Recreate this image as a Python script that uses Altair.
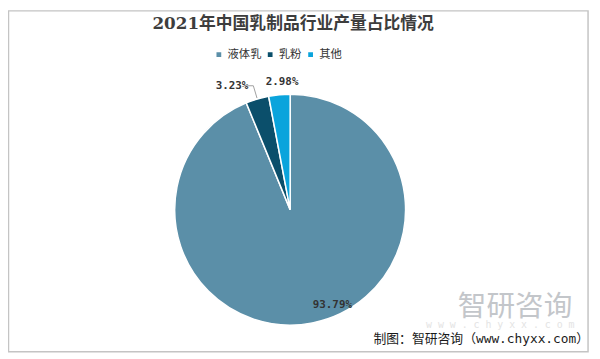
import altair as alt
import pandas as pd

categories = ["液体乳", "乳粉", "其他"]
values = [93.79, 3.23, 2.98]
labels = ["93.79%", "3.23%", "2.98%"]
colors = ["#5b8fa8", "#0b4f6b", "#0aa4dc"]

df = pd.DataFrame({"category": categories, "value": values, "label": labels,
                   "idx": list(range(len(categories)))})

CX, CY, R = 286, 202, 117
W, H = 592, 351

base = alt.Chart(df)

border = alt.Chart(alt.Data(values=[{}])).mark_rect(
    fill=None, stroke="#c4c4c4", strokeWidth=1.5
).encode(x=alt.value(0.5), x2=alt.value(588), y=alt.value(0.5), y2=alt.value(346))

pie = base.mark_arc(outerRadius=R, stroke="white", strokeWidth=1.5).encode(
    theta=alt.Theta("value:Q", stack=True),
    color=alt.Color(
        "category:N",
        scale=alt.Scale(domain=categories, range=colors),
        sort=categories,
        legend=alt.Legend(
            title=None, orient="none", legendX=208, legendY=39,
            direction="horizontal", symbolType="square", symbolSize=40,
            labelFontSize=11.5, labelFont="Noto Sans CJK SC", labelColor="#333333",
            columnPadding=2, symbolOffset=0, labelOffset=3,
        ),
    ),
    order=alt.Order("idx:Q"),
    x=alt.value(CX), y=alt.value(CY),
)

geo = base.transform_window(
    cum="sum(value)", sort=[alt.SortField("idx")]
).transform_joinaggregate(total="sum(value)").transform_calculate(
    mid="(datum.cum - datum.value/2) / datum.total * 2 * PI"
)

def polar(chart, r, name):
    return chart.transform_calculate(
        **{name + "x": f"{CX} + {r} * sin(datum.mid)",
           name + "y": f"{CY} - {r} * cos(datum.mid)"}
    )

LBL = dict(font="DejaVu Sans Mono", fontSize=11, fontWeight="bold", color="#333333")

# inside label for the big slice
lab_in = polar(geo.transform_filter("datum.idx == 0"), 97, "p").mark_text(
    dx=24, dy=2, **LBL
).encode(x=alt.X("px:Q", scale=None), y=alt.Y("py:Q", scale=None), text="label:N")

# outside label for 其他
lab_o = polar(geo.transform_filter("datum.idx == 2"), 130, "p").mark_text(
    dx=4, **LBL
).encode(x=alt.X("px:Q", scale=None), y=alt.Y("py:Q", scale=None), text="label:N")

# leader line + label for 乳粉
g1 = polar(polar(geo.transform_filter("datum.idx == 1"), R + 1, "a"), 131, "b")
lead1 = g1.mark_rule(color="#a0a0a0", strokeWidth=1).encode(
    x=alt.X("ax:Q", scale=None), y=alt.Y("ay:Q", scale=None),
    x2="bx:Q", y2="by:Q")
lead2 = g1.transform_calculate(cx2="datum.bx - 7").mark_rule(
    color="#a0a0a0", strokeWidth=1).encode(
    x=alt.X("bx:Q", scale=None), y=alt.Y("by:Q", scale=None),
    x2="cx2:Q", y2="by:Q")
lab_l = g1.mark_text(align="right", dx=-5, **LBL).encode(
    x=alt.X("bx:Q", scale=None), y=alt.Y("by:Q", scale=None), text="label:N")

one = alt.Chart(alt.Data(values=[{}]))
title = one.mark_text(
    text="2021年中国乳制品行业产量占比情况", font="DejaVu Serif, Noto Sans CJK SC",
    fontSize=17, fontWeight="bold", color="#3d3d3d"
).encode(x=alt.value(289), y=alt.value(14))

wm1 = one.mark_text(
    text="智研咨询", font="Noto Sans CJK SC", fontSize=29, color="#c3c6ca"
).encode(x=alt.value(514), y=alt.value(301))
wm2 = one.mark_text(
    text="w w w . c h y x x . c o m", font="DejaVu Sans Mono", fontSize=10, color="#e4e4e4"
).encode(x=alt.value(499), y=alt.value(319))
footer = one.mark_text(
    text="制图：智研咨询（www.chyxx.com）", font="DejaVu Sans Mono, Noto Sans CJK SC",
    fontSize=13, color="#1a1a1a", align="right"
).encode(x=alt.value(589), y=alt.value(333))

chart = alt.layer(
    border, pie, lead1, lead2, lab_in, lab_o, lab_l, title, wm1, wm2, footer
).properties(
    width=W, height=H, autosize=alt.AutoSizeParams(type="none"), padding=0
).configure_view(stroke=None)

chart.save("out.html", embed_options={"renderer": "svg", "actions": False})
